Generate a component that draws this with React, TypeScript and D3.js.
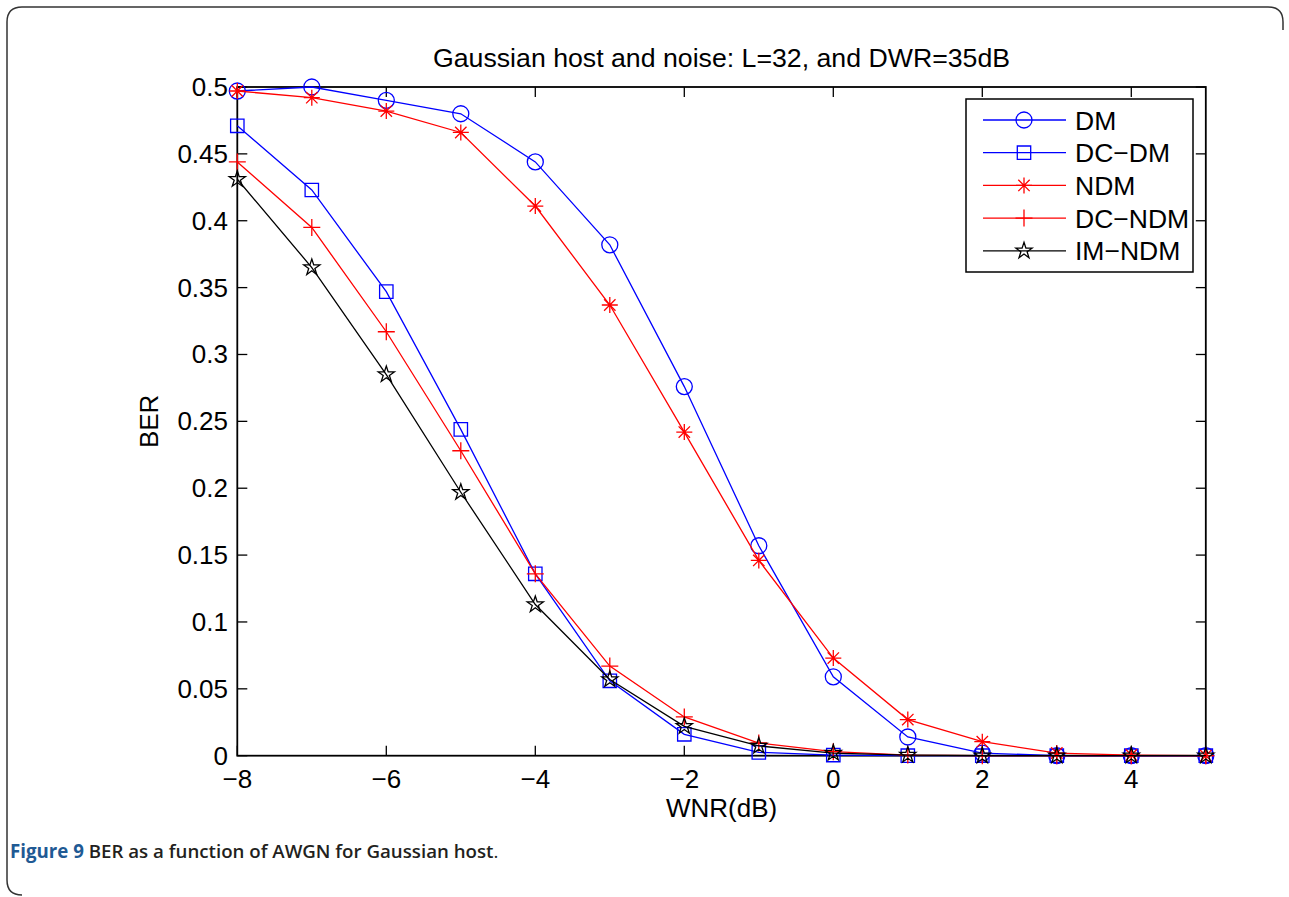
import React from "react";
import * as d3 from "d3";

const wnr = [-8, -7, -6, -5, -4, -3, -2, -1, 0, 1, 2, 3, 4, 5];
const dm = [0.497, 0.5, 0.49, 0.48, 0.444, 0.382, 0.276, 0.157, 0.059, 0.014, 0.002, 0, 0, 0];
const dcdm = [0.471, 0.423, 0.347, 0.244, 0.136, 0.056, 0.016, 0.0025, 0.0005, 0, 0, 0, 0, 0];
const ndm = [0.497, 0.492, 0.482, 0.466, 0.411, 0.337, 0.242, 0.146, 0.073, 0.027, 0.0105, 0.002, 0.0005, 0];
const dcndm = [0.444, 0.395, 0.317, 0.228, 0.136, 0.067, 0.029, 0.0095, 0.003, 0.0005, 0, 0, 0, 0];
const imndm = [0.431, 0.365, 0.285, 0.197, 0.113, 0.057, 0.022, 0.0073, 0.002, 0.0005, 0, 0, 0, 0];

const seriesNames = ["DM", "DC\u2212DM", "NDM", "DC\u2212NDM", "IM\u2212NDM"];
const seriesColors = ["#0000ff", "#0000ff", "#ff0000", "#ff0000", "#000000"];
const seriesMarkers = ["circle", "square", "asterisk", "plus", "star"];
const seriesValues = [dm, dcdm, ndm, dcndm, imndm];

const xTicks = [-8, -6, -4, -2, 0, 2, 4];
const yTicks = [0, 0.05, 0.1, 0.15, 0.2, 0.25, 0.3, 0.35, 0.4, 0.45, 0.5];

const titleText = "Gaussian host and noise: L=32, and DWR=35dB";
const xLabel = "WNR(dB)";
const yLabel = "BER";

const W = 1289;
const H = 897;
const L = 237.3, R = 1205.8, T = 87, B = 755.7;
const FONT = "'Liberation Sans', Arial, Helvetica, sans-serif";

function markerPath(kind: string, cx: number, cy: number): string {
  switch (kind) {
    case "circle": {
      const r = 8;
      return `M${cx - r},${cy}a${r},${r} 0 1,0 ${2 * r},0a${r},${r} 0 1,0 ${-2 * r},0Z`;
    }
    case "square": {
      const s = 6.7;
      return `M${cx - s},${cy - s}h${2 * s}v${2 * s}h${-2 * s}Z`;
    }
    case "asterisk": {
      const s = 8, d = 5.7;
      return `M${cx - s},${cy}h${2 * s}M${cx},${cy - s}v${2 * s}M${cx - d},${cy - d}l${2 * d},${2 * d}M${cx - d},${cy + d}l${2 * d},${-2 * d}`;
    }
    case "plus": {
      const s = 8.5;
      return `M${cx - s},${cy}h${2 * s}M${cx},${cy - s}v${2 * s}`;
    }
    case "star": {
      const ro = 8.5, ri = ro * 0.382;
      const pts: string[] = [];
      for (let i = 0; i < 10; i++) {
        const a = -Math.PI / 2 + (i * Math.PI) / 5;
        const r = i % 2 === 0 ? ro : ri;
        pts.push(`${cx + r * Math.cos(a)},${cy + r * Math.sin(a)}`);
      }
      return "M" + pts.join("L") + "Z";
    }
  }
  return "";
}

export default function App() {
  const x = d3.scaleLinear().domain([-8, 5]).range([L, R]);
  const y = d3.scaleLinear().domain([0, 0.5]).range([B, T]);
  const line = d3
    .line<number>()
    .x((_, i) => x(wnr[i]))
    .y((v) => y(v));
  const fmtX = d3.format("d");
  const tickLen = 10;

  const legX = 966, legY = 99, legW = 227, legH = 173;
  const legRow0 = 120, legStep = 32.7;

  return (
    <svg
      width={W}
      height={H}
      style={{ position: "absolute", left: 0, top: 0, background: "#fff" }}
      xmlns="http://www.w3.org/2000/svg"
    >
      <rect x={0} y={0} width={W} height={H} fill="#fff" />
      {/* outer frame */}
      <path
        d="M22,895 Q7,895 7,880 L7,22 Q7,7 22,7 L1268,7 Q1283,7 1283,22 L1283,30"
        fill="none"
        stroke="#333"
        strokeWidth={1.5}
      />

      {/* title */}
      <text x={(L + R) / 2} y={67} textAnchor="middle" fontFamily={FONT} fontSize={26.7} fill="#000">
        {titleText}
      </text>

      {/* axes box */}
      <rect x={L} y={T} width={R - L} height={B - T} fill="none" stroke="#000" strokeWidth={1.8} />
      {xTicks.map((t) => (
        <g key={"xt" + t}>
          <line x1={x(t)} x2={x(t)} y1={B} y2={B - tickLen} stroke="#000" strokeWidth={1.3} />
          <line x1={x(t)} x2={x(t)} y1={T} y2={T + tickLen} stroke="#000" strokeWidth={1.3} />
          <text x={x(t)} y={788} textAnchor="middle" fontFamily={FONT} fontSize={26} fill="#000">
            {fmtX(t)}
          </text>
        </g>
      ))}
      {yTicks.map((t) => (
        <g key={"yt" + t}>
          <line x1={L} x2={L + tickLen} y1={y(t)} y2={y(t)} stroke="#000" strokeWidth={1.3} />
          <line x1={R} x2={R - tickLen} y1={y(t)} y2={y(t)} stroke="#000" strokeWidth={1.3} />
          <text
            x={228}
            y={y(t) + 9}
            textAnchor="end"
            fontFamily={FONT}
            fontSize={26}
            fill="#000"
          >
            {String(t)}
          </text>
        </g>
      ))}
      <text x={(L + R) / 2} y={817} textAnchor="middle" fontFamily={FONT} fontSize={26} fill="#000">
        {xLabel}
      </text>
      <text
        transform={`translate(158,${(T + B) / 2}) rotate(-90)`}
        textAnchor="middle"
        fontFamily={FONT}
        fontSize={26}
        fill="#000"
      >
        {yLabel}
      </text>

      {/* data */}
      {seriesValues.map((vals, si) => (
        <g key={"s" + si}>
          <path d={line(vals) || ""} fill="none" stroke={seriesColors[si]} strokeWidth={1.3} />
          {vals.map((v, i) => (
            <path
              key={i}
              d={markerPath(seriesMarkers[si], x(wnr[i]), y(v))}
              fill="none"
              stroke={seriesColors[si]}
              strokeWidth={1.3}
            />
          ))}
        </g>
      ))}

      {/* legend */}
      <rect x={legX} y={legY} width={legW} height={legH} fill="#fff" stroke="#000" strokeWidth={1.5} />
      {seriesNames.map((n, i) => {
        const ry = legRow0 + i * legStep;
        return (
          <g key={"lg" + i}>
            <line x1={983} x2={1066} y1={ry} y2={ry} stroke={seriesColors[i]} strokeWidth={1.3} />
            <path d={markerPath(seriesMarkers[i], 1024, ry)} fill="none" stroke={seriesColors[i]} strokeWidth={1.3} />
            <text x={1075} y={ry + 9.5} fontFamily={FONT} fontSize={26.5} fill="#000">
              {n}
            </text>
          </g>
        );
      })}

      {/* caption */}
      <text x={10} y={858} fontFamily="'Open Sans', 'Noto Sans', sans-serif" fontSize={18.7} fontWeight={600} fill="#231f20">
        <tspan fill="#1f5a94" fontWeight={700}>Figure 9</tspan>
        <tspan> BER as a function of AWGN for Gaussian host</tspan>
        <tspan fontWeight={400}>.</tspan>
      </text>
    </svg>
  );
}
